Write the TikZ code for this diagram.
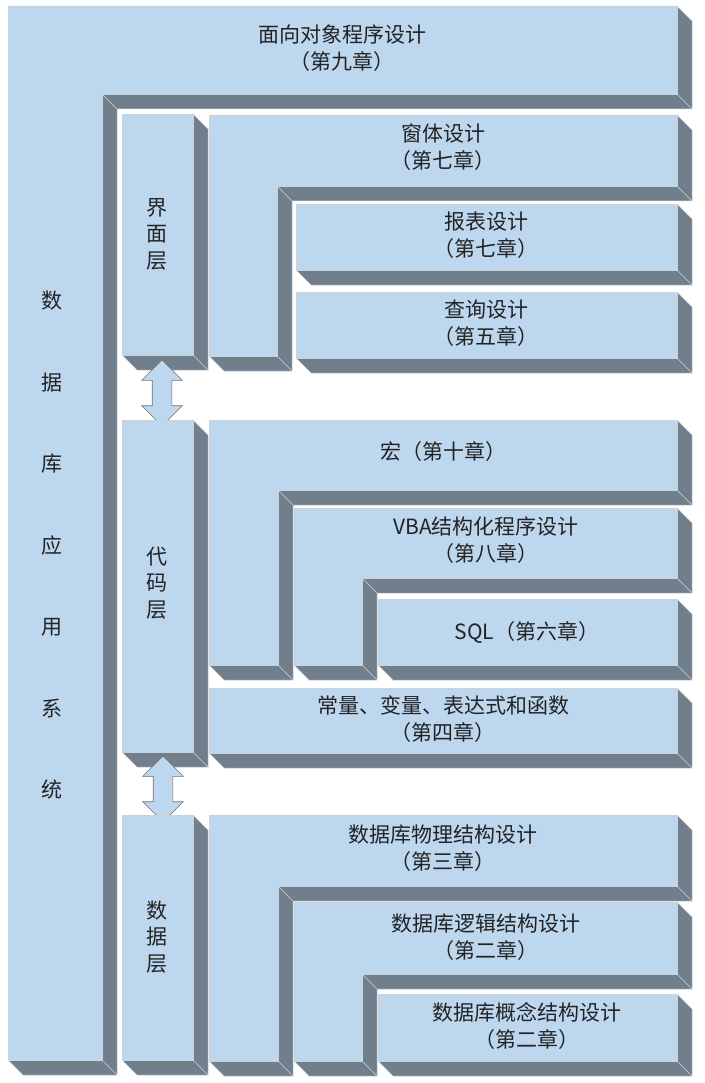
\documentclass[tikz,border=0pt]{standalone}
\usepackage{fontspec}
\setmainfont{Noto Sans CJK SC}
\usetikzlibrary{shapes.arrows}
\definecolor{boxface}{RGB}{189,215,238}
\definecolor{boxside}{RGB}{113,127,140}
\definecolor{boxrim}{RGB}{205,210,215}
\definecolor{txtgray}{RGB}{35,35,35}

\newcommand\rblock[4]{%
  \filldraw[blockside] (#3,#2) -- (#3+15,#2+15) -- (#3+15,#4+15) -- (#1+15,#4+15) -- (#1,#4) -- (#3,#4) -- cycle;
  \draw[blockedge] (#3,#4) -- ++(15,15);
  \filldraw[blockface] (#1,#2) rectangle (#3,#4);
}
\newcommand\lblock[6]{%
  \filldraw[blockside] (#3,#2) -- (#3+15,#2+15) -- (#3+15,#4+15) -- (#5+15,#4+15) -- (#5+15,#6+15) -- (#1+15,#6+15) -- (#1,#6) -- (#5,#6) -- (#5,#4) -- (#3,#4) -- cycle;
  \draw[blockedge] (#3,#4) -- ++(15,15) (#5,#4) -- ++(15,15) (#5,#6) -- ++(15,15);
  \filldraw[blockface] (#1,#2) -- (#3,#2) -- (#3,#4) -- (#5,#4) -- (#5,#6) -- (#1,#6) -- cycle;
}

\begin{document}
\begin{tikzpicture}[x=1pt,y=-1pt,
  blockface/.style={fill=boxface,draw=boxrim,line width=0.8pt},
  blockside/.style={fill=boxside,draw=boxrim,line width=0.5pt},
  blockedge/.style={draw=boxrim,line width=0.4pt},
  lab/.style={font=\fontsize{21}{26.5}\selectfont,text=txtgray,align=center,inner sep=0pt},
  llab/.style={font=\fontsize{21}{26.5}\selectfont,text=txtgray,align=center,inner sep=0pt},
  vlab/.style={font=\fontsize{21}{81.5}\selectfont,text=txtgray,align=center,inner sep=0pt},
  dblarrow/.style={double arrow,rotate=90,draw=black!55,fill=boxface,line width=0.6pt,inner sep=9.5pt,double arrow head extend=10.5pt,minimum height=66pt},
]
\fill[white] (0,0) rectangle (704,1083);
\useasboundingbox (0,0) rectangle (704,1083);
\lblock{8}{6}{677}{94}{102}{1060}
\node[lab] (oop) at (342,48) {面向对象程序设计\\（第九章）};
\node[vlab] (sys) at (52,545) {数\\据\\库\\应\\用\\系\\统};
\rblock{122}{114}{193}{355}
\node[llab] (ui) at (157,234) {界\\面\\层};
\node[dblarrow] (a1) at (162,393) {};
\rblock{122}{420}{193}{752}
\node[llab] (code) at (157,583) {代\\码\\层};
\node[dblarrow] (a2) at (163,789) {};
\rblock{122}{815}{193}{1060}
\node[llab] (data) at (157,937) {数\\据\\层};
\lblock{209}{115}{677}{186}{277}{356}
\node[lab] (form) at (443,147) {窗体设计\\（第七章）};
\rblock{296}{204}{677}{270}
\node[lab] (report) at (486,235) {报表设计\\（第七章）};
\rblock{296}{292}{677}{358}
\node[lab] (query) at (486,323) {查询设计\\（第五章）};
\lblock{209}{420}{677}{490}{278}{665}
\node[lab] (macro) at (443,452) {宏（第十章）};
\lblock{294}{508}{677}{578}{362}{665}
\node[lab] (vba) at (486,540) {VBA结构化程序设计\\（第八章）};
\rblock{378}{599}{677}{665}
\node[lab] (sql) at (527,632) {SQL（第六章）};
\rblock{209}{688}{677}{753}
\node[lab] (expr) at (443,719) {常量、变量、表达式和函数\\（第四章）};
\lblock{209}{815}{677}{886}{278}{1061}
\node[lab] (phys) at (443,848) {数据库物理结构设计\\（第三章）};
\lblock{294}{902}{677}{974}{362}{1061}
\node[lab] (logic) at (486,937) {数据库逻辑结构设计\\（第二章）};
\rblock{378}{994}{677}{1061}
\node[lab] (concept) at (527,1026) {数据库概念结构设计\\（第二章）};
\end{tikzpicture}
\end{document}
